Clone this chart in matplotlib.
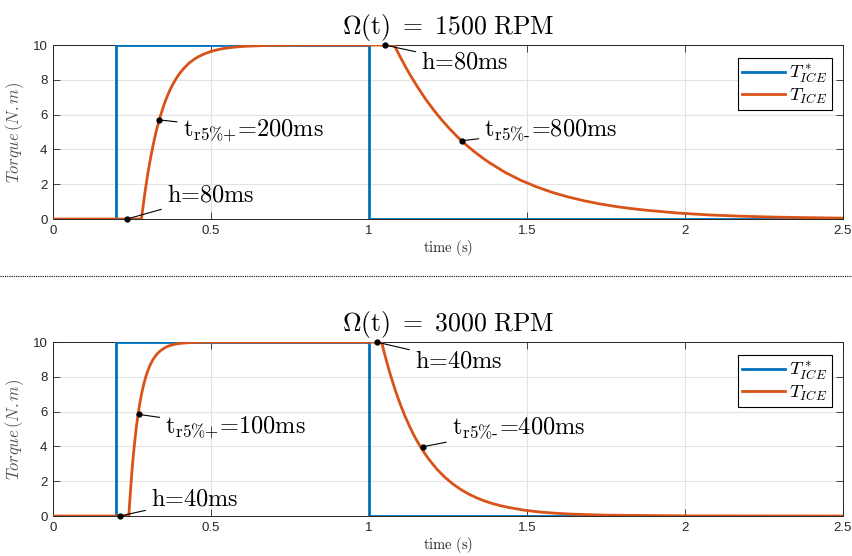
import matplotlib
matplotlib.use('Agg')
from matplotlib import pyplot as plt
from matplotlib.lines import Line2D

plt.rcParams['mathtext.fontset'] = 'cm'
plt.rcParams['font.family'] = ['Liberation Sans', 'DejaVu Sans']

# reference torque (step), same for both speeds
ref_t = [0, 0.2, 0.2, 1.0, 1.0, 2.5]
ref_v = [0, 0, 10, 10, 0, 0]

# measured torque, 1500 RPM
t1500 = [0, 0.28, 0.285, 0.29, 0.295, 0.30, 0.305, 0.31, 0.315, 0.32, 0.325,
         0.33, 0.34, 0.35, 0.36, 0.37, 0.38, 0.39, 0.40, 0.415, 0.43, 0.445,
         0.46, 0.48, 0.50, 0.52, 0.54, 0.56, 0.58, 0.61, 0.64, 0.68, 0.73,
         0.80, 1.08, 1.09, 1.10, 1.115, 1.13, 1.155, 1.18, 1.205, 1.23, 1.255,
         1.28, 1.305, 1.33, 1.355, 1.38, 1.43, 1.48, 1.53, 1.58, 1.63, 1.68,
         1.73, 1.78, 1.83, 1.88, 1.98, 2.08, 2.18, 2.28, 2.38, 2.5]
v1500 = [0, 0, 0.72, 1.39, 2.01, 2.59, 3.13, 3.62, 4.08, 4.51, 4.91,
         5.28, 5.93, 6.50, 6.99, 7.41, 7.77, 8.08, 8.35, 8.68, 8.95, 9.16,
         9.33, 9.50, 9.63, 9.73, 9.80, 9.85, 9.89, 9.93, 9.95, 9.98, 9.99,
         10, 10, 9.63, 9.28, 8.77, 8.29, 7.55, 6.87, 6.26, 5.70, 5.19,
         4.72, 4.30, 3.92, 3.57, 3.25, 2.69, 2.23, 1.85, 1.53, 1.27, 1.05,
         0.87, 0.72, 0.60, 0.50, 0.34, 0.23, 0.16, 0.11, 0.08, 0.05]

# measured torque, 3000 RPM
t3000 = [0, 0.24, 0.2425, 0.245, 0.2475, 0.25, 0.2525, 0.255, 0.2575, 0.26,
         0.2625, 0.265, 0.27, 0.275, 0.28, 0.285, 0.29, 0.295, 0.30, 0.3075,
         0.315, 0.3225, 0.33, 0.34, 0.35, 0.36, 0.37, 0.38, 0.39, 0.405, 0.42,
         0.44, 0.465, 0.5, 1.04, 1.045, 1.05, 1.0575, 1.065, 1.0775, 1.09,
         1.1025, 1.115, 1.1275, 1.14, 1.1525, 1.165, 1.1775, 1.19, 1.215, 1.24,
         1.265, 1.29, 1.315, 1.34, 1.365, 1.39, 1.415, 1.44, 1.49, 1.54, 1.59,
         1.64, 1.69, 1.75, 2.0, 2.5]
v3000 = [0, 0, 0.72, 1.39, 2.01, 2.59, 3.13, 3.62, 4.08, 4.51,
         4.91, 5.28, 5.93, 6.50, 6.99, 7.41, 7.77, 8.08, 8.35, 8.68,
         8.95, 9.16, 9.33, 9.50, 9.63, 9.73, 9.80, 9.85, 9.89, 9.93, 9.95,
         9.98, 9.99, 10, 10, 9.63, 9.28, 8.77, 8.29, 7.55, 6.87,
         6.26, 5.70, 5.19, 4.72, 4.30, 3.92, 3.57, 3.25, 2.69, 2.23,
         1.85, 1.53, 1.27, 1.05, 0.87, 0.72, 0.60, 0.50, 0.34, 0.23, 0.16,
         0.11, 0.08, 0.05, 0.01, 0]

# annotated points: (t, value), label position, label text
ann1500_pts = [(0.234, 0), (0.335, 5.7), (1.05, 10), (1.294, 4.5)]
ann1500_txt = [(0.36, 1.35), (0.41, 5.1), (1.165, 9.0), (1.365, 5.1)]
ann1500_lbl = [r'$\text{h=80ms}$', r'$\text{t}_{\text{r5\%+}}\text{=200ms}$',
               r'$\text{h=80ms}$', r'$\text{t}_{\text{r5\%-}}\text{=800ms}$']

ann3000_pts = [(0.212, 0), (0.272, 5.84), (1.024, 10), (1.17, 3.98)]
ann3000_txt = [(0.31, 0.95), (0.355, 5.05), (1.145, 8.9), (1.262, 5.05)]
ann3000_lbl = [r'$\text{h=40ms}$', r'$\text{t}_{\text{r5\%+}}\text{=100ms}$',
               r'$\text{h=40ms}$', r'$\text{t}_{\text{r5\%-}}\text{=400ms}$']

titles = [r'$\Omega(\mathrm{t})\ =\ 1500\ \mathrm{RPM}$',
          r'$\Omega(\mathrm{t})\ =\ 3000\ \mathrm{RPM}$']

blue = '#0072BD'
orange = '#D95319'
dark = '#262626'

fig = plt.figure(figsize=(8.52, 5.56), dpi=100)
ax1 = fig.add_axes([0.0622, 0.6061, 0.9272, 0.3129])
ax2 = fig.add_axes([0.0622, 0.0719, 0.9272, 0.3129])

sets = [(ax1, t1500, v1500, ann1500_pts, ann1500_txt, ann1500_lbl, titles[0]),
        (ax2, t3000, v3000, ann3000_pts, ann3000_txt, ann3000_lbl, titles[1])]

for ax, tt, vv, pts, txt, lbl, title in sets:
    ax.plot(ref_t, ref_v, color=blue, lw=2, label=r'$T^*_{ICE}$', zorder=3)
    ax.plot(tt, vv, color=orange, lw=2, label=r'$T_{ICE}$', zorder=4)
    for p, q, s in zip(pts, txt, lbl):
        ax.plot(p[0], p[1], 'o', color='black', ms=3.5, zorder=6, clip_on=False)
        ax.annotate(s, xy=p, xytext=q, fontsize=17.5, ha='left', va='center',
                    arrowprops=dict(arrowstyle='-', color='black', lw=0.8,
                                    shrinkA=2, shrinkB=0), zorder=6)
    ax.set_xlim(0, 2.5)
    ax.set_ylim(0, 10)
    ax.set_xticks([0, 0.5, 1, 1.5, 2, 2.5])
    ax.set_xticklabels(['0', '0.5', '1', '1.5', '2', '2.5'])
    ax.set_yticks([0, 2, 4, 6, 8, 10])
    ax.tick_params(direction='in', top=True, right=True, length=5,
                   width=0.6, labelsize=9.5, colors=dark, pad=4)
    ax.grid(True, color='#e3e3e3', lw=0.8)
    ax.set_axisbelow(True)
    for sp in ax.spines.values():
        sp.set_color(dark)
        sp.set_linewidth(0.7)
    ax.set_title(title, fontsize=18.5, pad=8)
    ax.set_xlabel(r'$\mathrm{time\ (s)}$', fontsize=10.5, color=dark, labelpad=1)
    ax.set_ylabel(r'$Torque\,(N.m)$', fontsize=12, color='#555555', labelpad=5)
    leg = ax.legend(loc='upper right', fontsize=13.5, frameon=True, fancybox=False,
                    edgecolor='black', framealpha=1, handlelength=2.3,
                    handletextpad=0.2, borderpad=0.25, labelspacing=0.05,
                    borderaxespad=0, bbox_to_anchor=(0.986, 0.925))
    leg.get_frame().set_linewidth(0.8)

# dotted separator between the two panels
fig.add_artist(Line2D([0, 1], [0.503, 0.503], transform=fig.transFigure,
                      color='black', lw=0.8, linestyle=(0, (1, 1))))

fig.savefig('out.png', dpi=100)
